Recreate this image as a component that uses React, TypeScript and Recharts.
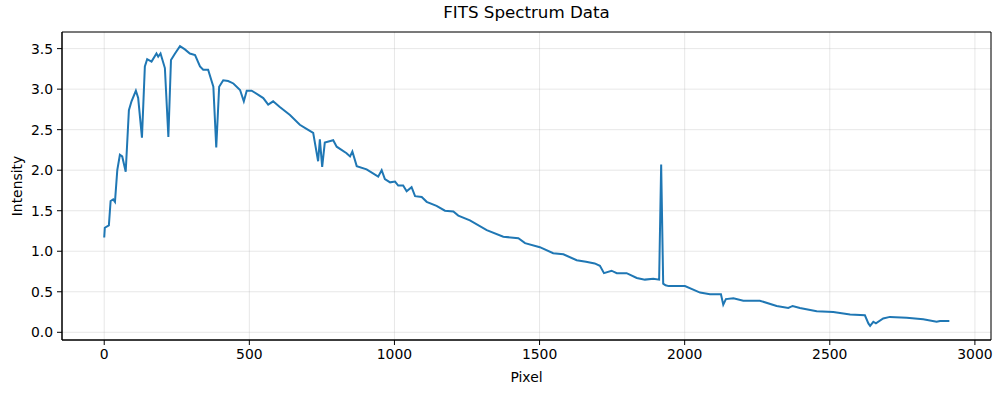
import React from 'react';
import { LineChart, Line, XAxis, YAxis, CartesianGrid, ReferenceArea } from 'recharts';

// values
const pixels = [
  0, 2, 16, 22, 31, 37, 45, 54, 62, 74, 85, 94, 109, 117, 130, 140, 148, 163, 180, 186,
  194, 209, 221, 230, 244, 261, 278, 295, 313, 330, 341, 358, 376, 386, 396, 410, 427, 445, 468, 481,
  491, 508, 531, 548, 565, 582, 605, 640, 674, 697, 720, 737, 743, 751, 760, 789, 801, 835, 847, 855,
  870, 904, 944, 956, 967, 985, 1002, 1013, 1030, 1042, 1059, 1071, 1094, 1111, 1145, 1174, 1203, 1220, 1260, 1318,
  1375, 1427, 1450, 1501, 1547, 1582, 1628, 1660, 1690, 1708, 1722, 1748, 1766, 1800, 1835, 1863, 1892, 1912, 1919, 1926,
  1934, 1945, 2001, 2053, 2087, 2125, 2133, 2142, 2168, 2202, 2259, 2317, 2357, 2372, 2397, 2455, 2512, 2570, 2621, 2633,
  2639, 2650, 2659, 2684, 2707, 2765, 2822, 2868, 2880, 2912,
];

const intensity = [
  1.17, 1.29, 1.32, 1.62, 1.64, 1.61, 2.0, 2.19, 2.17, 1.98, 2.74, 2.85, 2.98, 2.89, 2.4, 3.28, 3.37, 3.34, 3.44, 3.4,
  3.44, 3.26, 2.41, 3.36, 3.44, 3.53, 3.49, 3.44, 3.42, 3.28, 3.24, 3.24, 3.03, 2.28, 3.03, 3.11, 3.1, 3.07, 2.99, 2.85,
  2.98, 2.98, 2.93, 2.89, 2.81, 2.85, 2.78, 2.68, 2.56, 2.51, 2.46, 2.11, 2.38, 2.04, 2.34, 2.37, 2.29, 2.21, 2.17, 2.23,
  2.05, 2.01, 1.92, 2.0, 1.89, 1.85, 1.86, 1.81, 1.81, 1.74, 1.79, 1.68, 1.67, 1.61, 1.56, 1.5, 1.49, 1.44, 1.38, 1.26,
  1.18, 1.16, 1.1, 1.05, 0.975, 0.963, 0.89, 0.87, 0.85, 0.82, 0.73, 0.76, 0.73, 0.73, 0.67, 0.65, 0.66, 0.65, 2.07, 0.6,
  0.58, 0.57, 0.57, 0.49, 0.47, 0.47, 0.34, 0.41, 0.42, 0.39, 0.39, 0.325, 0.3, 0.325, 0.3, 0.26, 0.25, 0.22, 0.21, 0.11,
  0.08, 0.13, 0.11, 0.17, 0.19, 0.18, 0.16, 0.13, 0.14, 0.14,
];

const xTicks = [0, 500, 1000, 1500, 2000, 2500, 3000];
const yTicks = [0, 0.5, 1, 1.5, 2, 2.5, 3, 3.5];

const X_DOMAIN: [number, number] = [-145.5, 3055.5];
const Y_DOMAIN: [number, number] = [-0.095, 3.705];

const data = pixels.map((p, i) => ({ pixel: p, intensity: intensity[i] }));

const font = 'DejaVu Sans, sans-serif';
const tickStyle = { fontSize: 13.9, fill: '#000', fontFamily: font };

export default function App() {
  return (
    <div style={{ position: 'absolute', left: 0, top: 0, width: 1002, height: 393, background: '#fff' }}>
      <div
        style={{
          position: 'absolute',
          left: 62,
          width: 929,
          top: 1,
          textAlign: 'center',
          fontFamily: font,
          fontSize: 16.7,
          lineHeight: '22px',
          color: '#000',
        }}
      >
        FITS Spectrum Data
      </div>
      <LineChart width={1002} height={393} data={data} margin={{ top: 32, right: 11, bottom: 0, left: 12 }}>
        <CartesianGrid stroke="#b0b0b0" strokeOpacity={0.3} strokeWidth={1} />
        <XAxis
          dataKey="pixel"
          type="number"
          domain={X_DOMAIN}
          ticks={xTicks}
          allowDataOverflow
          height={53}
          stroke="#000"
          tickSize={5}
          tickMargin={4}
          tick={tickStyle}
          label={{ value: 'Pixel', position: 'insideBottom', offset: 11, style: { fontSize: 13.9, fill: '#000', fontFamily: font } }}
        />
        <YAxis
          type="number"
          domain={Y_DOMAIN}
          ticks={yTicks}
          allowDataOverflow
          width={50}
          stroke="#000"
          tickSize={5}
          tickMargin={4}
          tick={tickStyle}
          tickFormatter={(v: number) => v.toFixed(1)}
          label={{ value: 'Intensity', angle: -90, position: 'insideLeft', offset: 5, style: { textAnchor: 'middle', fontSize: 13.9, fill: '#000', fontFamily: font } }}
        />
        <ReferenceArea x1={X_DOMAIN[0]} x2={X_DOMAIN[1]} y1={Y_DOMAIN[0]} y2={Y_DOMAIN[1]} fill="none" stroke="#000" strokeWidth={1} ifOverflow="visible" />
        <Line type="linear" dataKey="intensity" stroke="#1f77b4" strokeWidth={2} dot={false} isAnimationActive={false} />
      </LineChart>
    </div>
  );
}
